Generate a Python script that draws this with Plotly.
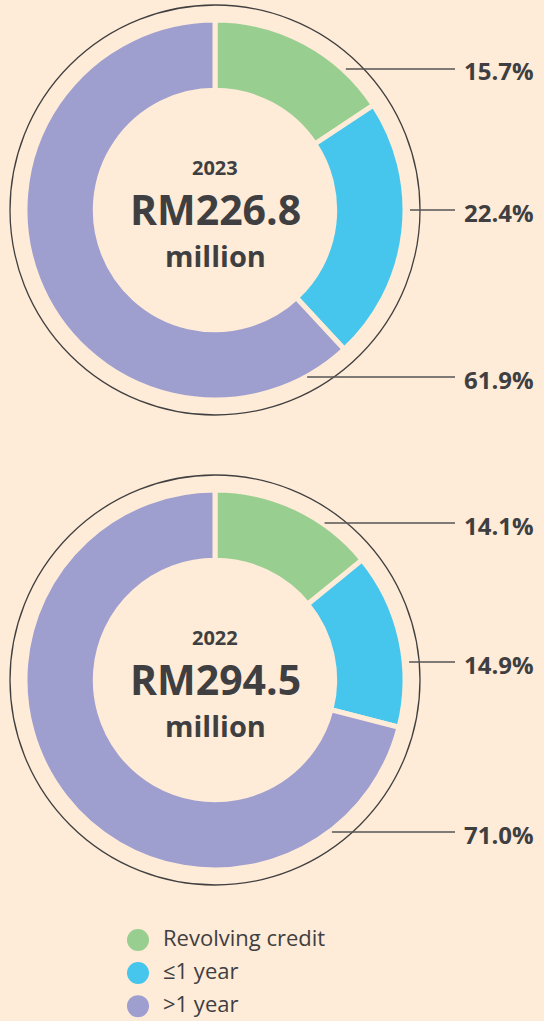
import plotly.graph_objects as go

categories = ["Revolving credit", "≤1 year", ">1 year"]
colors = ["#98ce8f", "#46c6ec", "#9e9ecf"]
years = ["2023", "2022"]
totals = ["RM226.8", "RM294.5"]
shares_2023 = [15.7, 22.4, 61.9]
shares_2022 = [14.1, 14.9, 71.0]

W, H = 544, 1021
BG = "#feebd8"
INK = "#3f3f41"
FONT = "Open Sans"


def px_x(x):
    return x / W


def px_y(y):
    return 1 - y / H


# layout of each donut in pixels: centre, label rows
donuts = [
    dict(year=years[0], total=totals[0], values=shares_2023, cx=215, cy=210,
         label_y=[69, 210, 377]),
    dict(year=years[1], total=totals[1], values=shares_2022, cx=215, cy=680,
         label_y=[523, 662, 832]),
]
R = 190
RING = 205

fig = go.Figure()
shapes = []
annotations = []

for d in donuts:
    cx, cy = d["cx"], d["cy"]
    fig.add_trace(go.Pie(
        labels=categories,
        values=d["values"],
        marker=dict(colors=colors, line=dict(color=BG, width=5)),
        hole=0.63,
        sort=False,
        direction="clockwise",
        rotation=0,
        textinfo="none",
        showlegend=False,
        hoverinfo="label+percent",
        domain=dict(x=[px_x(cx - R), px_x(cx + R)], y=[px_y(cy + R), px_y(cy - R)]),
    ))
    shapes.append(dict(type="circle", xref="paper", yref="paper",
                       x0=px_x(cx - RING), x1=px_x(cx + RING),
                       y0=px_y(cy + RING), y1=px_y(cy - RING),
                       line=dict(color="#404040", width=1.3)))
    for v, ly in zip(d["values"], d["label_y"]):
        dy = abs(ly - cy)
        dx = (max(187 ** 2 - dy ** 2, 0)) ** 0.5
        x_start = cx + dx + 8
        shapes.append(dict(type="line", xref="paper", yref="paper",
                           x0=px_x(x_start), x1=px_x(455),
                           y0=px_y(ly), y1=px_y(ly),
                           line=dict(color="#555555", width=1.5)))
        annotations.append(dict(text=f"<b>{v:.1f}%</b>", xref="paper", yref="paper",
                                x=px_x(536), y=px_y(ly + 2), xanchor="right",
                                yanchor="middle", showarrow=False,
                                font=dict(family=FONT, size=24, color=INK)))
    # centre text, three stacked lines
    for txt, size, off in [(d["year"], 20, -43), (d["total"], 41, -1), ("million", 29, 45)]:
        annotations.append(dict(text=f"<b>{txt}</b>", xref="paper", yref="paper",
                                x=px_x(cx), y=px_y(cy + off), showarrow=False,
                                xanchor="center", yanchor="middle",
                                font=dict(family=FONT, size=size, color=INK)))

# custom legend with round markers
idx = list(range(len(categories)))
fig.add_trace(go.Scatter(
    x=[0] * len(categories), y=idx, mode="markers",
    marker=dict(size=22, color=colors), showlegend=False, hoverinfo="skip",
))
fig.add_trace(go.Scatter(
    x=[25] * len(categories), y=idx, mode="text", text=categories,
    textposition="middle right",
    textfont=dict(family=FONT, size=22, color=INK),
    showlegend=False, hoverinfo="skip",
))

fig.update_layout(
    width=W, height=H,
    margin=dict(l=0, r=0, t=0, b=0),
    paper_bgcolor=BG, plot_bgcolor=BG,
    shapes=shapes, annotations=annotations,
    xaxis=dict(visible=False, range=[-138, W - 138], domain=[0, 1], fixedrange=True),
    yaxis=dict(visible=False, range=[2.45, -0.5], domain=[0, px_y(923.5)], fixedrange=True),
)

fig.write_html("out.html", config={"displayModeBar": False},
               post_script="document.body.style.margin='0';")
